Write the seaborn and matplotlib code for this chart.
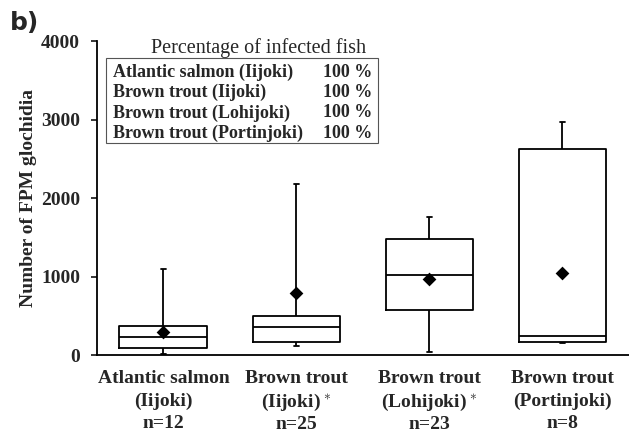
import numpy as np
import pandas as pd
import matplotlib
matplotlib.use("Agg")
import matplotlib.pyplot as plt
import seaborn as sns

# five-number summaries (whisker ends = min / max)
groups = ["Atlantic salmon\n(Iijoki)", "Brown trout\n(Iijoki)",
          "Brown trout\n(Lohijoki)", "Brown trout\n(Portinjoki)"]
n_fish = [12, 25, 23, 8]
whisker_low = [10, 120, 42, 150]
q1 = [90, 170, 573, 170]
median = [233, 360, 1019, 242]
q3 = [370, 500, 1478, 2628]
whisker_high = [1100, 2180, 1762, 2964]
means = [300, 795, 968, 1048]
starred = [False, True, True, False]

legend_names = ["Atlantic salmon (Iijoki)", "Brown trout (Iijoki)",
                "Brown trout (Lohijoki)", "Brown trout (Portinjoki)"]
legend_pct = ["100 %", "100 %", "100 %", "100 %"]

rows = []
for g, lo, a, m, b, hi in zip(groups, whisker_low, q1, median, q3, whisker_high):
    for v in (lo, a, m, b, hi):
        rows.append({"group": g, "value": v})
df = pd.DataFrame(rows)
df_mean = pd.DataFrame({"group": groups, "value": means})

sns.set_style("white")
plt.rcParams["font.family"] = ["Liberation Serif", "DejaVu Serif"]
plt.rcParams["mathtext.fontset"] = "custom"
plt.rcParams["mathtext.rm"] = "Liberation Serif:bold"
plt.rcParams["mathtext.it"] = "Liberation Serif:bold"

fig = plt.figure(figsize=(6.29, 4.32), dpi=100)
ax = fig.add_axes([0.154, 0.178, 0.846, 0.727])

sns.boxplot(data=df, x="group", y="value", order=groups, whis=(0, 100),
            fill=False, color="black", width=0.66, linewidth=1.3,
            capwidths=0.04, ax=ax)
sns.stripplot(data=df_mean, x="group", y="value", order=groups, jitter=False,
              marker="D", color="black", size=7, ax=ax, zorder=5)

ax.set_ylim(0, 4000)
ax.set_xlim(-0.5, 3.5)
ax.set_yticks([0, 1000, 2000, 3000, 4000])
ax.tick_params(axis="y", direction="out", length=4, width=1.3, left=True,
               labelsize=14, pad=8)
ax.tick_params(axis="x", length=0, pad=11)
for lbl in ax.get_yticklabels():
    lbl.set_fontweight("bold")

# starred groups get a small raised asterisk after the river name
tick_text = []
for g, n, s in zip(groups, n_fish, starred):
    first, second = g.split("\n")
    if s:
        second = second + r"$^{\,\ast}$"
    tick_text.append(f"{first}\n{second}\nn={n}")
ax.set_xticks(range(len(groups)))
ax.set_xticklabels(tick_text, fontsize=14, fontweight="bold")
# the superscript makes its line taller, so plain labels get a bit more spacing
for lbl, s in zip(ax.get_xticklabels(), starred):
    lbl.set_linespacing(1.28 if s else 1.38)

ax.set_xlabel("")
ax.set_ylabel("Number of FPM glochidia", fontsize=14, fontweight="bold",
              labelpad=3)
for side in ("top", "right"):
    ax.spines[side].set_visible(False)
for side in ("left", "bottom"):
    ax.spines[side].set_linewidth(1.3)
    ax.spines[side].set_color("black")

# infection table in the upper left
ax.text(0.303, 0.978, "Percentage of infected fish", transform=ax.transAxes,
        ha="center", va="center", fontsize=14.5)
table_box = plt.Rectangle((0.018, 0.675), 0.51, 0.27, transform=ax.transAxes,
                          fill=False, edgecolor="#555555", linewidth=0.8)
ax.add_patch(table_box)
for k, (name, pct) in enumerate(zip(legend_names, legend_pct)):
    y = 0.901 - k * 0.065
    ax.text(0.03, y, name, transform=ax.transAxes, ha="left", va="center",
            fontsize=13, fontweight="bold")
    ax.text(0.517, y, pct, transform=ax.transAxes, ha="right", va="center",
            fontsize=13, fontweight="bold")

fig.text(0.015, 0.947, "b)", fontsize=18, fontweight="bold",
         family="DejaVu Sans", ha="left", va="center")

fig.savefig("out.png", dpi=100)
